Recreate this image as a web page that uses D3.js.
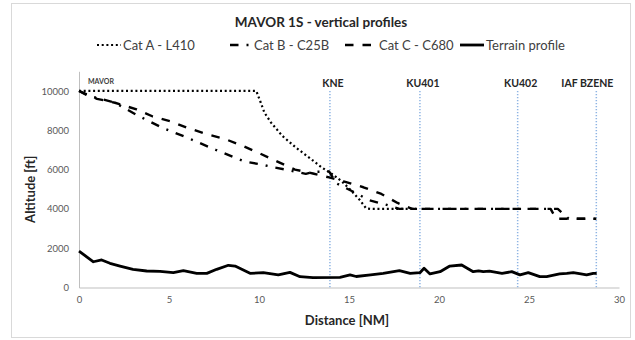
<!DOCTYPE html>
<html>
<head>
<meta charset="utf-8">
<script src="https://cdn.jsdelivr.net/npm/d3@7"></script>
<style>
  html, body { margin: 0; padding: 0; background: #fff; }
  svg { display: block; font-family: Lato, "Open Sans", "Liberation Sans", sans-serif; }
</style>
</head>
<body>
<script>
// ---------------- DATA ----------------
const xTicks = [0, 5, 10, 15, 20, 25, 30];
const yTicks = [0, 2000, 4000, 6000, 8000, 10000];

const waypointNames = ["KNE", "KU401", "KU402", "IAF BZENE"];
const waypointDist  = [13.94, 18.94, 24.37, 28.74];

const catA_dist = [0, 9.85, 10.1, 10.3, 10.67, 11.3, 12.06, 12.8, 13.5, 14.1, 14.6, 15.1, 15.6, 15.95, 16.2, 18.9];
const catA_alt  = [10000, 10000, 9400, 8900, 8390, 7710, 7110, 6600, 6100, 5750, 5400, 4950, 4450, 4030, 4000, 4000];

const catB_dist = [0, 0.5, 1.2, 2.0, 3.2, 4.6, 6.1, 7.6, 9.2, 10.0, 10.9, 11.6, 12.6, 13.0, 13.9, 14.3, 15.4, 16.1, 17.1, 17.8, 26.6, 27.2, 28.74];
const catB_alt  = [10000, 9750, 9600, 9400, 8780, 8140, 7590, 7000, 6410, 6280, 6100, 5980, 5780, 5880, 5900, 5300, 4800, 4450, 4200, 4000, 4000, 3500, 3500];

const catC_dist = [0, 1, 2, 3.2, 4.1, 5.1, 6, 7.1, 8.1, 9.1, 10, 10.8, 12.0, 13.0, 13.9, 14.7, 15.8, 16.8, 17.7, 18.5, 26.2, 26.5, 28.74];
const catC_alt  = [10000, 9600, 9400, 9060, 8700, 8450, 8130, 7800, 7560, 7200, 6840, 6500, 6000, 5800, 5600, 5400, 5100, 4760, 4300, 4000, 4000, 3500, 3500];

const terrain_dist = [0, 0.8, 1.26, 1.72, 2.28, 3.0, 3.76, 4.5, 5.24, 5.8, 6.54, 7.1, 7.65, 8.3, 8.67, 9.5, 10.24, 11.07, 11.72, 12.28, 13.0, 14.5, 15.06, 15.4, 16.2, 16.9, 17.8, 18.4, 18.94, 19.17, 19.5, 20.06, 20.6, 21.26, 21.9, 22.2, 22.46, 22.8, 23.5, 24.04, 24.5, 24.96, 25.6, 25.98, 26.7, 27.1, 27.46, 27.8, 28.2, 28.57, 28.76];
const terrain_alt  = [1850, 1310, 1400, 1230, 1090, 925, 840, 825, 755, 855, 720, 720, 925, 1130, 1090, 720, 755, 640, 770, 550, 500, 520, 640, 560, 640, 720, 855, 720, 755, 975, 690, 805, 1090, 1145, 805, 850, 805, 830, 720, 805, 640, 755, 550, 550, 690, 720, 755, 700, 640, 720, 720];

const seriesNames = ["Cat A - L410", "Cat B - C25B", "Cat C - C680", "Terrain profile"];

// ---------------- CHART ----------------
const W = 635, H = 340;
const svg = d3.select("body").append("svg").attr("width", W).attr("height", H);

svg.append("rect").attr("x", 11.5).attr("y", 3.5).attr("width", 619).attr("height", 334)
  .attr("fill", "#fff").attr("stroke", "#d9d9d9").attr("stroke-width", 1);

const x = d3.scaleLinear().domain([0, 30]).range([79, 619]);
const y = d3.scaleLinear().domain([0, 11000]).range([287.5, 71.3]);

// axes
const xAxis = svg.append("g").attr("transform", `translate(0,${y(0)})`)
  .call(d3.axisBottom(x).tickValues(xTicks).tickSize(0).tickPadding(9).tickSizeOuter(0));
const yAxis = svg.append("g").attr("transform", `translate(${x(0)},0)`)
  .call(d3.axisLeft(y).tickValues(yTicks).tickFormat(d3.format("d")).tickSize(0).tickPadding(10).tickSizeOuter(0));
[xAxis, yAxis].forEach(g => {
  g.select(".domain").attr("stroke", "#bfbfbf").attr("stroke-width", 1);
  g.selectAll("text").attr("fill", "#595959").style("font-size", "9.5px")
    .style("font-family", "Lato, sans-serif");
});

// waypoint vertical lines
waypointDist.forEach((d, i) => {
  svg.append("line")
    .attr("x1", x(d)).attr("x2", x(d))
    .attr("y1", y(10000)).attr("y2", y(0))
    .attr("stroke", "#8eb4e3").attr("stroke-width", 1.5)
    .attr("stroke-dasharray", "1.3,1.7");
  svg.append("text")
    .attr("x", x(d) + (i === 3 ? -9 : 3)).attr("y", 87)
    .attr("text-anchor", "middle")
    .style("font-size", "10.5px").style("font-weight", "bold")
    .attr("fill", "#262626")
    .text(waypointNames[i]);
});

svg.append("text").attr("x", 88).attr("y", 83.5)
  .style("font-size", "7px").style("font-weight", "bold").attr("fill", "#404040")
  .text("MAVOR");

const line = d3.line().x(d => x(d[0])).y(d => y(d[1]));
const zip = (a, b) => a.map((v, i) => [v, b[i]]);

const styles = [
  { dash: "2,2.7", width: 2.2 },
  { dash: "8.5,8,2,8", width: 2.4 },
  { dash: "8.5,9", width: 2.4 },
  { dash: null, width: 2.8 }
];
const data = [
  zip(catA_dist, catA_alt),
  zip(catB_dist, catB_alt),
  zip(catC_dist, catC_alt),
  zip(terrain_dist, terrain_alt)
];

data.forEach((d, i) => {
  svg.append("path").datum(d)
    .attr("d", line)
    .attr("fill", "none")
    .attr("stroke", "#000")
    .attr("stroke-width", styles[i].width)
    .attr("stroke-linejoin", "round")
    .attr("stroke-dasharray", styles[i].dash);
});

// axis titles
svg.append("text").attr("x", 347).attr("y", 325)
  .attr("text-anchor", "middle").style("font-size", "13px").style("font-weight", "bold")
  .attr("fill", "#262626").text("Distance [NM]");
svg.append("text").attr("transform", `translate(35,${(y(0) + y(10000)) / 2}) rotate(-90)`)
  .attr("text-anchor", "middle").style("font-size", "13px").style("font-weight", "bold")
  .attr("fill", "#262626").text("Altitude [ft]");

// title
svg.append("text").attr("x", 321).attr("y", 27)
  .attr("text-anchor", "middle").style("font-size", "13.5px").style("font-weight", "bold")
  .attr("fill", "#262626").text("MAVOR 1S - vertical profiles");

// legend
const legX = [97, 230, 345, 460];
const legSampleW = [24, 22, 32, 24];
const legY = 45;
seriesNames.forEach((name, i) => {
  svg.append("line")
    .attr("x1", legX[i]).attr("x2", legX[i] + legSampleW[i])
    .attr("y1", legY).attr("y2", legY)
    .attr("stroke", "#000")
    .attr("stroke-width", styles[i].width)
    .attr("stroke-dasharray", styles[i].dash);
  svg.append("text")
    .attr("x", legX[i] + legSampleW[i] + 2).attr("y", legY + 4.5)
    .style("font-size", "13px").attr("fill", "#404040")
    .text(name);
});
</script>
</body>
</html>
